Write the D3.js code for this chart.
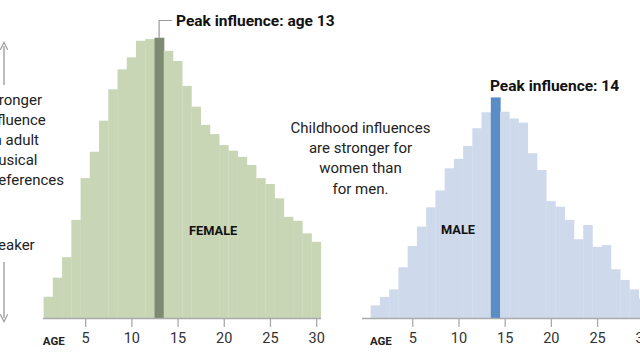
<!DOCTYPE html>
<html>
<head>
<meta charset="utf-8">
<script src="https://cdn.jsdelivr.net/npm/d3@7"></script>
<style>
  html, body { margin: 0; padding: 0; background: #fff; }
  svg { display: block; font-family: Roboto, "Liberation Sans", sans-serif; }
</style>
</head>
<body>
<svg id="chart" width="640" height="360"></svg>
<script>
// ---- data ----
const ages = d3.range(1, 31);
// relative influence index (peak female = 100)
const femaleValues = [7.6, 14.4, 21.7, 35.0, 49.9, 59.3, 70.4, 81.6, 88.7, 93.0,
                      98.9, 99.5, 100, 95.3, 91.7, 82.8, 75.4, 68.9, 65.6, 61.7,
                      59.7, 57.5, 54.6, 49.9, 47.8, 42.7, 36.1, 34.7, 30.2, 27.2];
const maleValues = [4.5, 7.5, 10.2, 18.1, 25.7, 32.6, 39.5, 45.5, 53.4, 56.8,
                    61.4, 67.7, 73.4, 78.7, 73.6, 71.2, 69.7, 58.8, 52.8, 41.7,
                    39.7, 35.0, 28.1, 33.2, 25.4, 26.0, 17.4, 13.6, 10.2, 7.0];
const femalePeak = 13;
const malePeak = 14;
const tickValues = [5, 10, 15, 20, 25, 30];
const leftNote = ["Stronger", "influence", "on adult", "musical", "preferences"];
const weakNote = "Weaker";
const centerNote = ["Childhood influences", "are stronger for", "women than", "for men."];

const svg = d3.select("#chart");
const baseY = 318;
const y = d3.scaleLinear().domain([0, 100]).range([baseY, 37.7]);

function panel(opts) {
  const x = d3.scaleLinear().domain([0.5, 30.5]).range(opts.range);
  const g = svg.append("g");
  g.selectAll("rect.bar")
    .data(ages.map((a, i) => ({ age: a, v: opts.values[i] })))
    .join("rect")
    .attr("class", "bar")
    .attr("x", d => x(d.age - 0.5))
    .attr("width", d => x(d.age + 0.5) - x(d.age - 0.5) + (d.age === opts.peak ? 0.6 : 0.3))
    .attr("y", d => y(d.v))
    .attr("height", d => baseY - y(d.v))
    .attr("fill", d => d.age === opts.peak ? opts.dark : opts.light);

  // axis
  const axis = d3.axisBottom(x).tickValues(tickValues).tickSize(9).tickPadding(6).tickSizeOuter(0);
  const ag = g.append("g").attr("transform", `translate(0,${baseY})`).call(axis);
  ag.select(".domain").remove();
  ag.selectAll(".tick line").attr("stroke", "#aaa").attr("stroke-width", 1.3);
  ag.selectAll(".tick text").attr("fill", "#333").attr("font-size", 14.5)
    .attr("font-family", "Roboto, sans-serif").attr("dy", "0.71em");
  g.append("line")
    .attr("x1", opts.axisStart).attr("x2", opts.axisEnd)
    .attr("y1", baseY + 0.5).attr("y2", baseY + 0.5)
    .attr("stroke", "#aaa").attr("stroke-width", 1.3);
  g.append("text").attr("x", opts.range[0] - 0.8).attr("y", 345)
    .attr("font-size", 11.5).attr("font-weight", 700).attr("fill", "#222")
    .text("AGE");
  return x;
}

const xL = panel({ range: [43.6, 320.8], values: femaleValues, peak: femalePeak,
  light: "#c9d6b6", dark: "#7e8b70", axisStart: 43, axisEnd: 321 });
const xR = panel({ range: [370.7, 647.9], values: maleValues, peak: malePeak,
  light: "#cedaeb", dark: "#5a8dc5", axisStart: 362, axisEnd: 640 });

// panel labels
svg.append("text").attr("x", 189).attr("y", 234.5).attr("font-size", 12.8).attr("font-weight", 700)
  .attr("fill", "#111").text("FEMALE");
svg.append("text").attr("x", 441).attr("y", 233.5).attr("font-size", 12.8).attr("font-weight", 700)
  .attr("fill", "#111").text("MALE");

// peak annotations
const fpX = xL(femalePeak);
svg.append("path")
  .attr("d", `M${fpX},${y(100)} V20.5 H172`)
  .attr("fill", "none").attr("stroke", "#999").attr("stroke-width", 1.2);
svg.append("text").attr("x", 176).attr("y", 25.8).attr("font-size", 15.5).attr("font-weight", 700)
  .attr("fill", "#111").text("Peak influence: age " + femalePeak);
svg.append("text").attr("x", xR(malePeak) - 5.5).attr("y", 90.8).attr("font-size", 15.5).attr("font-weight", 700)
  .attr("fill", "#111").text("Peak influence: " + malePeak);

// centre note
svg.append("text").attr("text-anchor", "middle").attr("font-size", 15).attr("fill", "#222")
  .selectAll("tspan").data(centerNote).join("tspan")
  .attr("x", 360.5).attr("y", (d, i) => 132.5 + i * 20.4).text(d => d);

// left y note
svg.append("text").attr("font-size", 15).attr("fill", "#222")
  .selectAll("tspan").data(leftNote).join("tspan")
  .attr("x", -15).attr("y", (d, i) => 105 + i * 20).text(d => d);
svg.append("text").attr("font-size", 15).attr("fill", "#222").attr("x", -15).attr("y", 250).text(weakNote);

// arrows
const defs = svg.append("defs");
defs.append("marker").attr("id", "ah").attr("viewBox", "0 0 10 10").attr("refX", 5).attr("refY", 5)
  .attr("markerWidth", 7).attr("markerHeight", 7).attr("orient", "auto-start-reverse")
  .append("path").attr("d", "M1,1 L9,5 L1,9").attr("fill", "none").attr("stroke", "#999").attr("stroke-width", 1.3);
svg.append("line").attr("x1", 4).attr("x2", 4).attr("y1", 85).attr("y2", 46)
  .attr("stroke", "#999").attr("stroke-width", 1.3).attr("marker-end", "url(#ah)");
svg.append("line").attr("x1", 4).attr("x2", 4).attr("y1", 262).attr("y2", 318)
  .attr("stroke", "#999").attr("stroke-width", 1.3).attr("marker-end", "url(#ah)");
</script>
</body>
</html>
